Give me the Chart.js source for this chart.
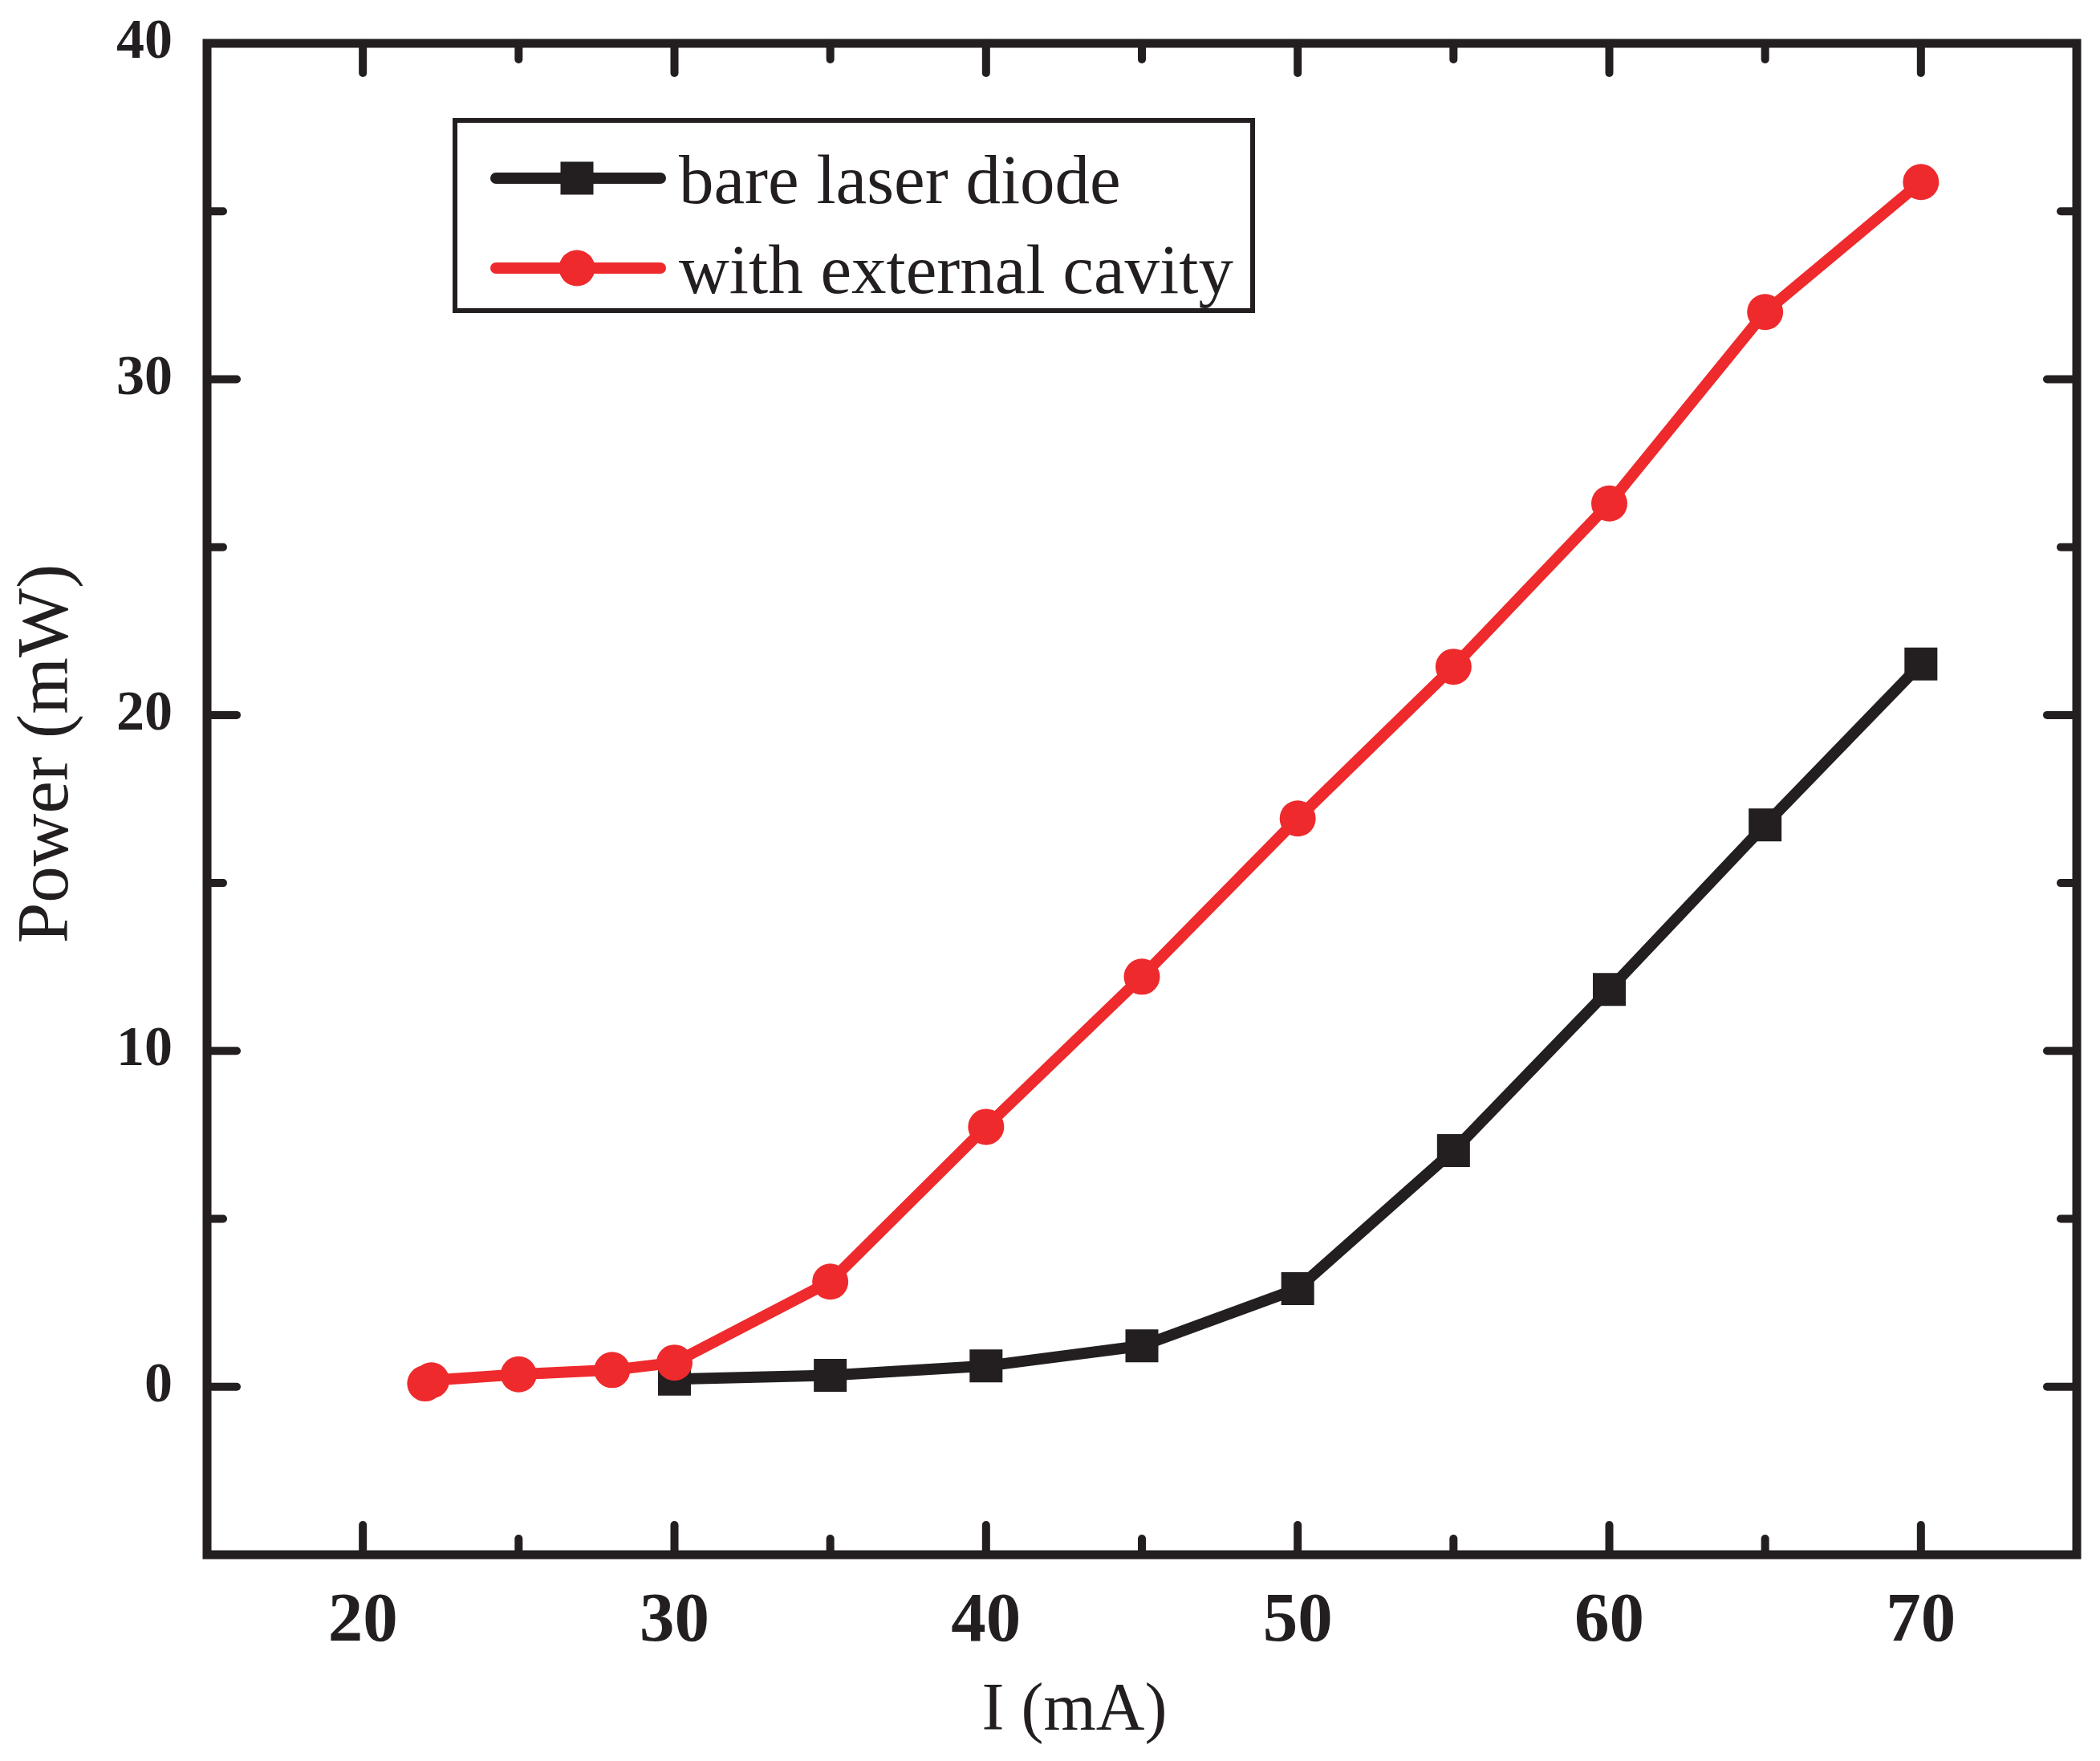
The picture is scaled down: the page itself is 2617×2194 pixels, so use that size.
<!DOCTYPE html>
<html>
<head>
<meta charset="utf-8">
<title>Power vs I</title>
<script src="https://cdn.jsdelivr.net/npm/chart.js@4/dist/chart.umd.min.js"></script>
<style>
  html, body { margin: 0; padding: 0; background: #fff; }
  canvas { display: block; }
</style>
</head>
<body>
<canvas id="chart" width="2617" height="2194"></canvas>
<script>
// values
const bareCurrent = [30, 35, 40, 45, 50, 55, 60, 65, 70];
const barePower   = [0.23, 0.34, 0.62, 1.22, 2.92, 7.03, 11.83, 16.73, 21.52];

const cavityCurrent = [22, 22.2, 25, 28, 30, 35, 40, 45, 50, 55, 60, 65, 70];
const cavityPower   = [0.1, 0.19, 0.37, 0.5, 0.72, 3.13, 7.74, 12.21, 16.92, 21.44, 26.3, 32.0, 35.87];

const xTicks      = [20, 30, 40, 50, 60, 70];
const xMinorTicks = [25, 35, 45, 55, 65];
const yTicks      = [0, 10, 20, 30, 40];
const yMinorTicks = [5, 15, 25, 35];

const INK = "#231f20";
const RED = "#ee2a2d";
const SERIF = "'Liberation Serif', 'Times New Roman', serif";

const pairs = (xs, ys) => xs.map((x, i) => ({ x, y: ys[i] }));

// box round the plot with inward ticks on all four sides
const frameTicks = {
  id: "frameTicks",
  afterDatasetsDraw(chart) {
    const { ctx, chartArea: a, scales } = chart;
    ctx.save();
    ctx.strokeStyle = INK;
    ctx.lineWidth = 11;
    ctx.lineJoin = "miter";
    ctx.strokeRect(a.left, a.top, a.right - a.left, a.bottom - a.top);

    ctx.lineWidth = 10;
    ctx.lineCap = "round";
    const tick = (x1, y1, x2, y2) => {
      ctx.beginPath();
      ctx.moveTo(x1, y1);
      ctx.lineTo(x2, y2);
      ctx.stroke();
    };
    const xs = [...xTicks.map(v => [v, 37]), ...xMinorTicks.map(v => [v, 20])];
    xs.forEach(([v, len]) => {
      const px = scales.x.getPixelForValue(v);
      tick(px, a.bottom, px, a.bottom - len);
      tick(px, a.top, px, a.top + len);
    });
    const ys = [...yTicks.map(v => [v, 37]), ...yMinorTicks.map(v => [v, 20])];
    ys.forEach(([v, len]) => {
      const py = scales.y.getPixelForValue(v);
      tick(a.left, py, a.left + len, py);
      tick(a.right, py, a.right - len, py);
    });
    ctx.restore();
  }
};

const axisTitles = {
  id: "axisTitles",
  afterDraw(chart) {
    const { ctx } = chart;
    ctx.save();
    ctx.fillStyle = INK;
    ctx.textBaseline = "alphabetic";
    ctx.textAlign = "center";
    ctx.font = `84px ${SERIF}`;
    ctx.fillText("I (mA)", 1339, 2155);

    ctx.translate(84, 939);
    ctx.rotate(-Math.PI / 2);
    ctx.font = `91px ${SERIF}`;
    ctx.fillText("Power (mW)", 0, 0);
    ctx.restore();
  }
};

// framed legend inside the plot, top left
const boxLegend = {
  id: "boxLegend",
  afterDraw(chart) {
    const { ctx } = chart;
    const rows = [
      { ds: chart.data.datasets[0], y: 222, base: 253 },
      { ds: chart.data.datasets[1], y: 334, base: 365 }
    ];
    ctx.save();
    ctx.strokeStyle = INK;
    ctx.lineWidth = 6;
    ctx.strokeRect(567, 150, 994, 237);

    rows.forEach(({ ds, y, base }) => {
      ctx.strokeStyle = ds.borderColor;
      ctx.lineWidth = 14;
      ctx.lineCap = "round";
      ctx.beginPath();
      ctx.moveTo(618, y);
      ctx.lineTo(823, y);
      ctx.stroke();

      ctx.fillStyle = ds.backgroundColor;
      const pt = { pointStyle: ds.pointStyle, radius: ds.pointRadius, borderWidth: 0, rotation: 0 };
      if (Chart.helpers && Chart.helpers.drawPoint) {
        Chart.helpers.drawPoint(ctx, pt, 719, y);
      } else if (ds.pointStyle === "rect") {
        const s = ds.pointRadius * Math.SQRT1_2;
        ctx.fillRect(719 - s, y - s, 2 * s, 2 * s);
      } else {
        ctx.beginPath();
        ctx.arc(719, y, ds.pointRadius, 0, Math.PI * 2);
        ctx.fill();
      }

      ctx.fillStyle = INK;
      ctx.font = `87px ${SERIF}`;
      ctx.textAlign = "left";
      ctx.textBaseline = "alphabetic";
      ctx.fillText(ds.label, 846, base);
    });
    ctx.restore();
  }
};

new Chart(document.getElementById("chart").getContext("2d"), {
  type: "line",
  data: {
    datasets: [
      {
        label: "bare laser diode",
        data: pairs(bareCurrent, barePower),
        borderColor: INK,
        backgroundColor: INK,
        pointStyle: "rect",
        pointRadius: 29,
        order: 1
      },
      {
        label: "with external cavity",
        data: pairs(cavityCurrent, cavityPower),
        borderColor: RED,
        backgroundColor: RED,
        pointStyle: "circle",
        pointRadius: 22.5,
        order: 0
      }
    ]
  },
  options: {
    responsive: false,
    animation: false,
    layout: { padding: { top: 54, right: 24, bottom: 0, left: 0 } },
    elements: {
      line: { borderWidth: 14, borderCapStyle: "round", borderJoinStyle: "round", tension: 0 },
      point: { borderWidth: 0, hoverRadius: 0 }
    },
    scales: {
      x: {
        type: "linear",
        min: 15,
        max: 75,
        afterBuildTicks: s => { s.ticks = xTicks.map(v => ({ value: v })); },
        afterFit: s => {
          s.height = 257;
          s.paddingLeft = 0;
          s.paddingRight = 0;
        },
        grid: { display: false, drawTicks: false },
        border: { display: false },
        ticks: {
          color: INK,
          font: { family: SERIF, size: 87, weight: "bold" },
          padding: 32,
          maxRotation: 0,
          autoSkip: false
        }
      },
      y: {
        type: "linear",
        min: -5,
        max: 40,
        afterBuildTicks: s => { s.ticks = yTicks.map(v => ({ value: v })); },
        afterFit: s => {
          s.width = 258;
          s.paddingTop = 0;
          s.paddingBottom = 0;
        },
        grid: { display: false, drawTicks: false },
        border: { display: false },
        ticks: {
          color: INK,
          font: { family: SERIF, size: 70, weight: "bold" },
          padding: 43,
          autoSkip: false
        }
      }
    },
    plugins: {
      legend: { display: false },
      tooltip: { enabled: false }
    }
  },
  plugins: [frameTicks, axisTitles, boxLegend]
});
</script>
</body>
</html>
